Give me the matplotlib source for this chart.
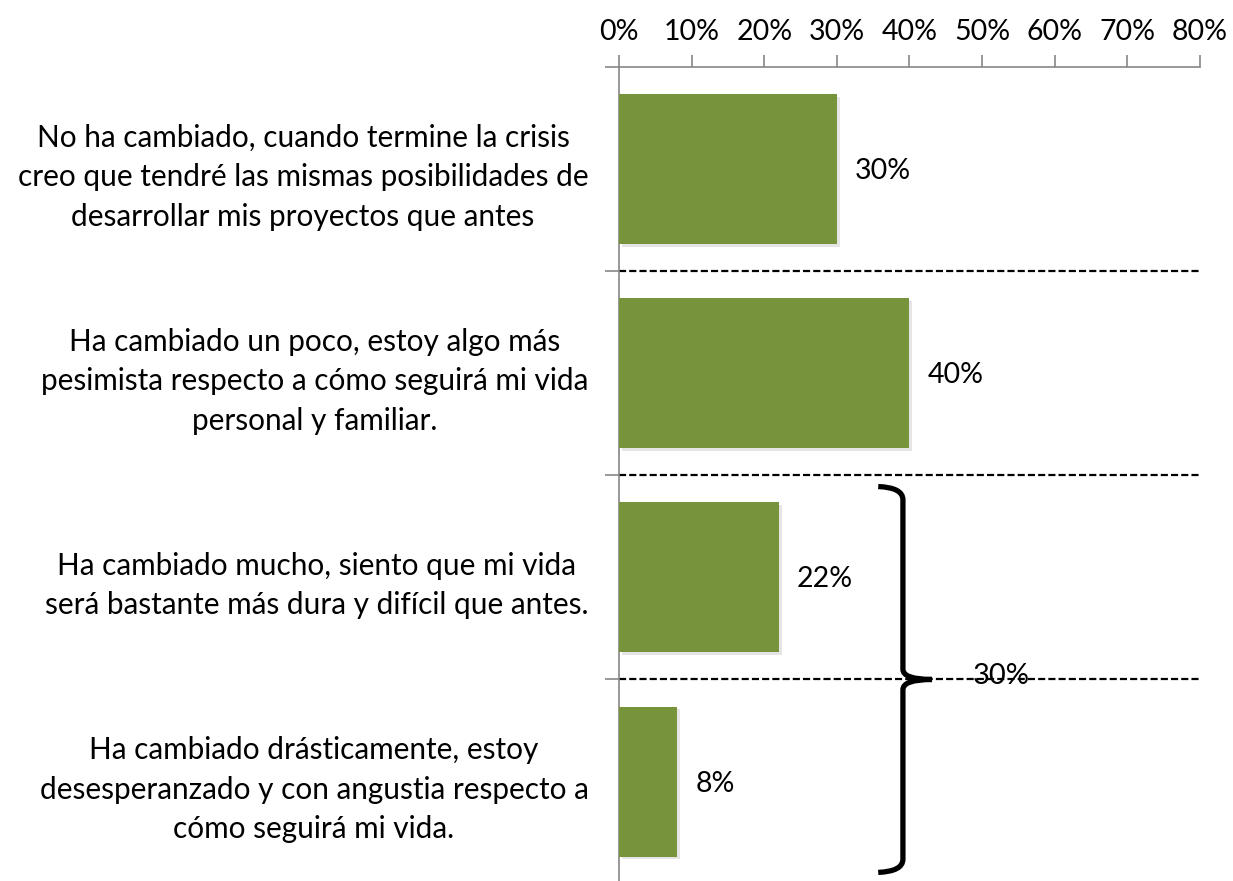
import matplotlib.pyplot as plt
import matplotlib.patheffects as pe
from matplotlib.path import Path
from matplotlib.patches import PathPatch

plt.rcParams['font.family'] = ['Lato', 'DejaVu Sans']

respuestas = [
    'No ha cambiado, cuando termine la crisis\ncreo que tendré las mismas posibilidades de\ndesarrollar mis proyectos que antes',
    'Ha cambiado un poco, estoy algo más\npesimista respecto a cómo seguirá mi vida\npersonal y familiar.',
    'Ha cambiado mucho, siento que mi vida\nserá bastante más dura y difícil que antes.',
    'Ha cambiado drásticamente, estoy\ndesesperanzado y con angustia respecto a\ncómo seguirá mi vida.',
]
porcentajes = [30, 40, 22, 8]
grupo_total = 30  # suma de las dos ultimas
ticks_x = [0, 10, 20, 30, 40, 50, 60, 70, 80]

verde = '#77933C'
gris = '#868686'

fig = plt.figure(figsize=(12.33, 8.81), dpi=100)
ax = fig.add_axes([0.502, -0.003, 0.4712, 0.927])

y = list(range(len(respuestas)))
bars = ax.barh(y, porcentajes, height=0.735, color=verde, zorder=3)
for b in bars:
    b.set_path_effects([pe.SimplePatchShadow(offset=(2, -2), shadow_rgbFace='gray', alpha=0.2),
                        pe.Normal()])

ax.set_xlim(0, 80)
ax.set_ylim(3.5, -0.5)

ax.xaxis.tick_top()
ax.set_xticks(ticks_x)
ax.set_xticklabels([f'{t}%' for t in ticks_x])
ax.tick_params(axis='x', direction='out', length=9, color=gris, width=1.2, labelsize=20.5, pad=7)

ax.set_yticks([-0.5, 0.5, 1.5, 2.5, 3.5])
ax.set_yticklabels([])
ax.tick_params(axis='y', which='major', length=10, color=gris, width=1.2)
ax.set_yticks(y, minor=True)
ax.set_yticklabels(respuestas, minor=True, multialignment='center', linespacing=1.5)
ax.tick_params(axis='y', which='minor', length=0, pad=22, labelsize=21.4)

for s in ['right', 'bottom']:
    ax.spines[s].set_visible(False)
for s in ['top', 'left']:
    ax.spines[s].set_color(gris)
    ax.spines[s].set_linewidth(1.2)

for yb in [0.5, 1.5, 2.5]:
    ax.axhline(yb, color='black', ls=(0, (3.2, 1.4)), lw=1.6, zorder=2)

for i, v in enumerate(porcentajes):
    ax.text(v + 2.5, i + 0.01, f'{v}%', va='center', ha='left', fontsize=20.5)

# llave que agrupa las dos ultimas respuestas
xl, xm, xt = 35.7, 39.1, 43.1
verts = [(xl, 1.555), (xm, 1.56), (xm, 1.62),
         (xm, 2.45),
         (xm, 2.5), (xt, 2.5),
         (xm, 2.5), (xm, 2.55),
         (xm, 3.38),
         (xm, 3.44), (xl, 3.445)]
codes = [Path.MOVETO, Path.CURVE3, Path.CURVE3,
         Path.LINETO,
         Path.CURVE3, Path.CURVE3,
         Path.CURVE3, Path.CURVE3,
         Path.LINETO,
         Path.CURVE3, Path.CURVE3]
ax.add_patch(PathPatch(Path(verts, codes), fill=False, lw=3.8, color='black',
                       capstyle='butt', joinstyle='miter', zorder=4, clip_on=False))
ax.text(52.7, 2.485, f'{grupo_total}%', ha='center', va='center', fontsize=21, zorder=5)

fig.savefig('out.png', dpi=100)
